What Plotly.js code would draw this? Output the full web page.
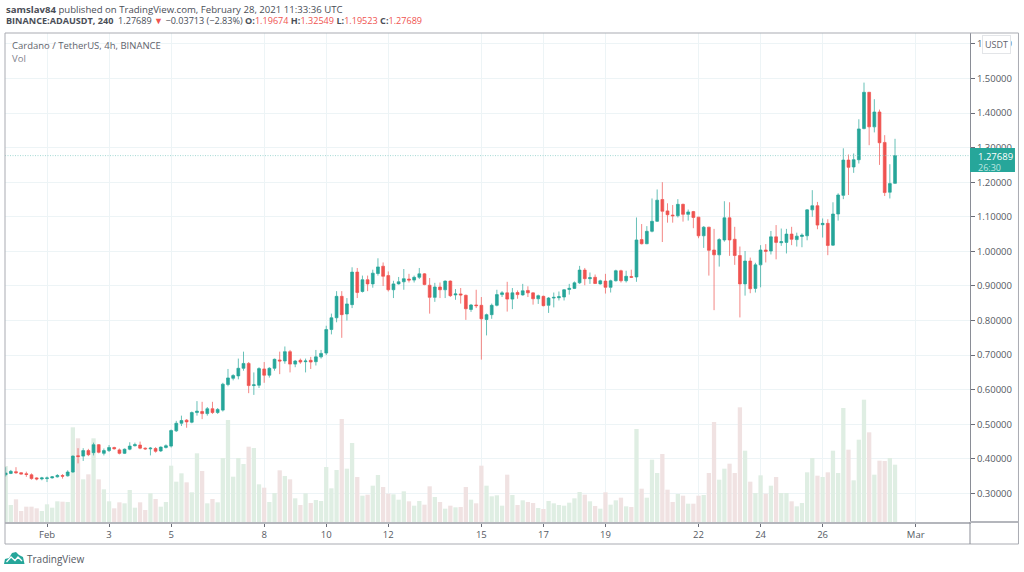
<!DOCTYPE html>
<html><head><meta charset="utf-8">
<script src="https://cdn.plot.ly/plotly-3.0.1.min.js"></script>
<style>html,body{margin:0;padding:0;background:#fff}</style></head>
<body><div id="chart" style="width:1024px;height:572px"></div>
<script>
const startDate = Date.UTC(2021,0,30,16);
const opens = [.354,.358,.363,.360,.357,.354,.345,.342,.343,.345,.348,.352,.351,.362,.409,.408,.424,.418,.441,.416,.424,.433,.426,.416,.428,.438,.44,.431,.429,.43,.423,.433,.437,.481,.503,.512,.506,.534,.537,.531,.545,.534,.541,.615,.633,.64,.662,.676,.612,.613,.66,.642,.662,.686,.683,.71,.674,.685,.681,.685,.681,.695,
.706,.774,.808,.87,.819,.846,.940,.884,.918,.906,.936,.957,.930,.889,.906,.912,.920,.917,.925,.935,.902,.867,.897,.889,.914,.874,.877,.873,.832,.845,.844,.803,.817,.844,.875,.880,.862,.881,.874,.887,.880,.863,.870,.844,.865,.866,.868,.890,.893,.909,.946,.921,.925,.906,.914,.896,.915,.944,.915,.927,
.926,1.034,1.022,1.058,1.087,1.150,1.117,1.105,1.103,1.136,1.107,1.115,1.099,1.045,1.070,1.004,.990,1.033,1.097,1.035,.988,.906,.972,.893,.961,1.004,1.001,1.042,1.025,1.026,1.050,1.034,1.043,1.045,1.120,1.132,1.077,1.081,1.018,1.108,1.162,1.264,1.244,1.265,1.355,1.460,1.360,1.403,1.315,1.171,1.19674];
const highs = [.376,.368,.376,.361,.363,.358,.347,.348,.349,.350,.356,.356,.367,.41,.431,.431,.429,.447,.443,.43,.44,.435,.43,.43,.448,.447,.45,.433,.434,.434,.436,.442,.485,.51,.525,.515,.537,.567,.565,.55,.565,.547,.62,.66,.645,.69,.71,.68,.65,.665,.68,.665,.69,.71,.725,.715,.686,.69,.69,.695,.715,.715,
.785,.82,.885,.885,.865,.954,.952,.93,.93,.947,.98,.968,.942,.915,.926,.949,.935,.93,.952,.937,.923,.909,.91,.916,.916,.891,.894,.875,.848,.889,.868,.82,.849,.889,.885,.912,.894,.887,.906,.899,.881,.875,.872,.868,.881,.884,.891,.906,.913,.958,.952,.939,.933,.918,.935,.918,.947,.947,.944,.947,
1.098,1.079,1.073,1.153,1.179,1.200,1.139,1.134,1.151,1.138,1.121,1.117,1.100,1.073,1.071,1.065,1.038,1.145,1.142,1.071,1.014,1.001,.982,.967,1.018,1.021,1.059,1.076,1.066,1.065,1.071,1.054,1.052,1.122,1.177,1.143,1.095,1.093,1.142,1.168,1.298,1.280,1.283,1.382,1.488,1.461,1.440,1.410,1.336,1.252,1.32549];
const lows = [.349,.356,.357,.355,.348,.340,.338,.338,.333,.343,.346,.343,.349,.360,.387,.394,.408,.41,.416,.41,.42,.427,.413,.414,.425,.436,.428,.426,.41,.418,.42,.43,.433,.478,.495,.49,.503,.525,.515,.525,.53,.53,.537,.61,.627,.63,.655,.59,.585,.605,.62,.635,.655,.645,.675,.65,.665,.675,.65,.66,.67,.69,
.70,.76,.795,.75,.80,.836,.865,.881,.885,.895,.93,.90,.884,.865,.904,.889,.91,.91,.92,.902,.82,.854,.865,.865,.868,.86,.849,.802,.825,.836,.687,.757,.805,.841,.868,.826,.833,.863,.872,.868,.846,.848,.841,.822,.838,.858,.858,.875,.891,.906,.902,.906,.906,.904,.878,.881,.913,.910,.910,.923,
.912,1.020,1.021,1.055,1.085,1.027,1.083,1.083,1.098,1.086,1.089,1.067,1.038,1.010,.930,.830,.956,1.028,.987,.961,.809,.872,.879,.881,.896,.968,.991,.977,1.016,.994,1.018,1.014,1.012,1.032,1.100,1.064,1.040,.989,1.016,1.089,1.151,1.163,1.227,1.254,1.353,1.307,1.344,1.250,1.160,1.153,1.19523];
const closes = [.359,.364,.360,.356,.355,.343,.342,.345,.345,.348,.352,.350,.362,.408,.407,.424,.412,.441,.419,.424,.433,.429,.416,.428,.437,.441,.431,.429,.431,.422,.434,.438,.482,.503,.511,.507,.534,.538,.531,.545,.534,.543,.616,.634,.641,.662,.676,.612,.614,.661,.642,.662,.688,.683,.71,.674,.683,.68,.683,.68,.695,.705,
.774,.808,.87,.817,.848,.940,.881,.918,.906,.937,.955,.928,.889,.906,.912,.921,.917,.925,.935,.904,.867,.897,.889,.914,.872,.877,.874,.834,.845,.843,.805,.817,.844,.875,.880,.862,.880,.875,.886,.880,.863,.872,.843,.865,.867,.869,.889,.893,.909,.946,.921,.924,.907,.915,.896,.915,.944,.915,.928,.925,
1.033,1.022,1.058,1.087,1.148,1.116,1.106,1.103,1.136,1.107,1.114,1.098,1.045,1.070,1.003,.990,1.034,1.097,1.033,.988,.906,.972,.892,.961,1.004,1.000,1.042,1.026,1.028,1.050,1.035,1.044,1.047,1.120,1.132,1.076,1.081,1.017,1.108,1.163,1.264,1.243,1.265,1.354,1.460,1.360,1.403,1.314,1.170,1.196,1.27689];
const volumes = [168,51,68,33,46,46,41,33,53,43,62,61,60,284,251,128,143,251,128,98,62,41,59,56,96,43,59,36,86,69,46,60,169,121,146,119,89,206,153,56,69,59,192,306,136,192,174,226,222,113,103,60,87,155,138,128,71,51,86,57,66,63,165,101,156,
309,160,237,135,79,82,109,141,105,85,83,67,92,62,49,63,52,107,75,60,40,49,44,45,105,67,56,169,109,77,80,49,142,81,51,65,60,57,42,39,63,56,51,49,58,71,90,82,62,48,40,89,52,65,73,47,45,279,100,73,187,147,
204,97,60,84,79,55,55,79,81,147,300,127,160,175,147,344,214,121,87,140,85,109,135,87,87,62,47,57,149,192,139,135,149,214,147,342,217,125,247,367,269,142,184,183,192,172];
const dateTicks = ['2021-02-01','2021-02-03','2021-02-05','2021-02-08','2021-02-10','2021-02-12','2021-02-15','2021-02-17','2021-02-19','2021-02-22','2021-02-24','2021-02-26','2021-03-01'];
const dateLabels = ['Feb','3','5','8','10','12','15','17','19','22','24','26','Mar'];
const priceTicks = [0.3,0.4,0.5,0.6,0.7,0.8,0.9,1.0,1.1,1.2,1.3,1.4,1.5,1.6];

const UP='#26a69a', DOWN='#ef5350', GRID='#edf4f6', TXT='#555a63';
const times = closes.map((_,i)=>new Date(startDate+i*4*3600e3).toISOString().slice(0,19).replace('T',' '));
const volColors = closes.map((c,i)=>c>=opens[i]?'#dfeee3':'#f0e2e2');
const last = closes.length-1;

// page pixels to paper fractions
const L=5,R=970.5,T=33,B=522;
const fx=x=>(x-L)/(R-L), fy=y=>(B-y)/(B-T);
const FONT='"Open Sans", sans-serif';
function note(x,y,text,opts){return Object.assign({xref:'paper',yref:'paper',x:fx(x),y:fy(y),text:text,showarrow:false,xanchor:'left',yanchor:'middle',borderpad:0,font:{family:FONT,size:9.5,color:TXT}},opts||{});}
function frame(x0,y0,x1,y1,color,w){return {type:'rect',xref:'paper',yref:'paper',x0:fx(x0),y0:fy(y0),x1:fx(x1),y1:fy(y1),line:{color:color,width:w},layer:'above'};}
function pathOf(pts){return pts.map(p=>typeof p==='string'?p:fx(p[0])+','+fy(p[1])).join(' ');}

const red=s=>'<span style="color:'+DOWN+'">'+s+'</span>';
const layout={
  width:1024,height:572,paper_bgcolor:'#fff',plot_bgcolor:'#fff',showlegend:false,
  margin:{l:L,r:1024-R,t:T,b:572-B,pad:0},
  bargap:0.17,boxgap:0.22,
  font:{family:FONT,size:9.5,color:TXT},
  xaxis:{type:'date',range:['2021-01-30 15:30','2021-03-02 18:00'],rangeslider:{visible:false},
    tickmode:'array',tickvals:dateTicks,ticktext:dateLabels,ticks:'outside',ticklen:3,tickcolor:'#6a6d78',
    showgrid:true,gridcolor:GRID,gridwidth:1,showline:true,linecolor:'#b4b6bc',linewidth:2,zeroline:false,
    tickfont:{family:FONT,size:9.5,color:TXT}},
  yaxis:{range:[0,1467],visible:false,showgrid:false,zeroline:false},
  yaxis2:{overlaying:'y',side:'right',range:[0.2175,1.6314],tickmode:'array',tickvals:priceTicks,tickformat:'.5f',
    ticks:'outside',ticklen:4,tickcolor:'#6a6d78',showgrid:true,gridcolor:GRID,gridwidth:1,zeroline:false,
    showline:true,linecolor:'#8a8d96',linewidth:1,tickfont:{family:FONT,size:9.5,color:TXT}},
  shapes:[
    {type:'line',xref:'paper',yref:'y2',x0:0,x1:1,y0:closes[last],y1:closes[last],line:{color:'#7cc8c1',width:0.7,dash:'1px,1.5px'},layer:'above'},
    frame(5,33,1019,544,'#a9abb2',1),
    {type:'line',xref:'paper',yref:'paper',x0:1,x1:1,y0:fy(522),y1:fy(544),line:{color:'#8a8d96',width:1},layer:'above'},
    {type:'line',xref:'paper',yref:'paper',x0:1,x1:fx(1019),y0:0,y1:0,line:{color:'#b4b6bc',width:2},layer:'above'},
    {type:'rect',xref:'paper',yref:'paper',x0:1,x1:fx(1015.5),y0:fy(148),y1:fy(172),fillcolor:UP,line:{width:0},layer:'above'},
    {type:'path',xref:'paper',yref:'paper',fillcolor:UP,line:{width:0},layer:'above',
     path:'M'+pathOf([[4,564],'L',[5,559],'L',[9,558],'L',[12,553],'L',[16,552],'L',[19,555],'L',[23,557],'L',[24.5,564]])+' Z'},
    {type:'path',xref:'paper',yref:'paper',line:{color:'#fff',width:1.3},layer:'above',
     path:'M'+pathOf([[6.5,562],'L',[11,557],'L',[15,560.5],'L',[18,557],'L',[22,561]])}
  ],
  annotations:[
    note(5,9,'<b>samslav84</b> published on TradingView.com, February 28, 2021 11:33:36 UTC',{font:{family:FONT,size:9.6,color:'#4a4e57'}}),
    note(5,21,'<b>BINANCE:ADAUSDT, 240</b>  1.27689 '+red('▼')+' −0.03713 (−2.83%) <b>O:</b>'+red('1.19674')+' <b>H:</b>'+red('1.32549')+' <b>L:</b>'+red('1.19523')+' <b>C:</b>'+red('1.27689'),{font:{family:FONT,size:9.1,color:'#4a4e57'}}),
    note(11,45.5,'Cardano / TetherUS, 4h, BINANCE',{font:{family:FONT,size:9.5,color:'#5f636c'}}),
    note(11,58.5,'Vol',{font:{family:FONT,size:9.5,color:'#7f838c'}}),
    note(983,44.5,'USDT',{bgcolor:'#fff',bordercolor:'#e3e5e8',borderwidth:1,borderpad:2,font:{family:FONT,size:9,color:'#5f636c'}}),
    note(978,156,closes[last].toFixed(5),{font:{family:FONT,size:9.5,color:'#fff'}}),
    note(978,167,'26:30',{font:{family:FONT,size:9,color:'#bfe6e1'}}),
    note(26,558.5,'TradingView',{font:{family:FONT,size:10,color:'#555a63'}})
  ]
};
const data=[
  {type:'bar',x:times,y:volumes,yaxis:'y',marker:{color:volColors,line:{width:0}},hoverinfo:'skip'},
  {type:'candlestick',x:times,open:opens,high:highs,low:lows,close:closes,yaxis:'y2',whiskerwidth:0,
   increasing:{line:{color:UP,width:0.7},fillcolor:UP},decreasing:{line:{color:DOWN,width:0.7},fillcolor:DOWN}}
];
Plotly.newPlot('chart',data,layout,{displayModeBar:false,staticPlot:true});
</script></body></html>
